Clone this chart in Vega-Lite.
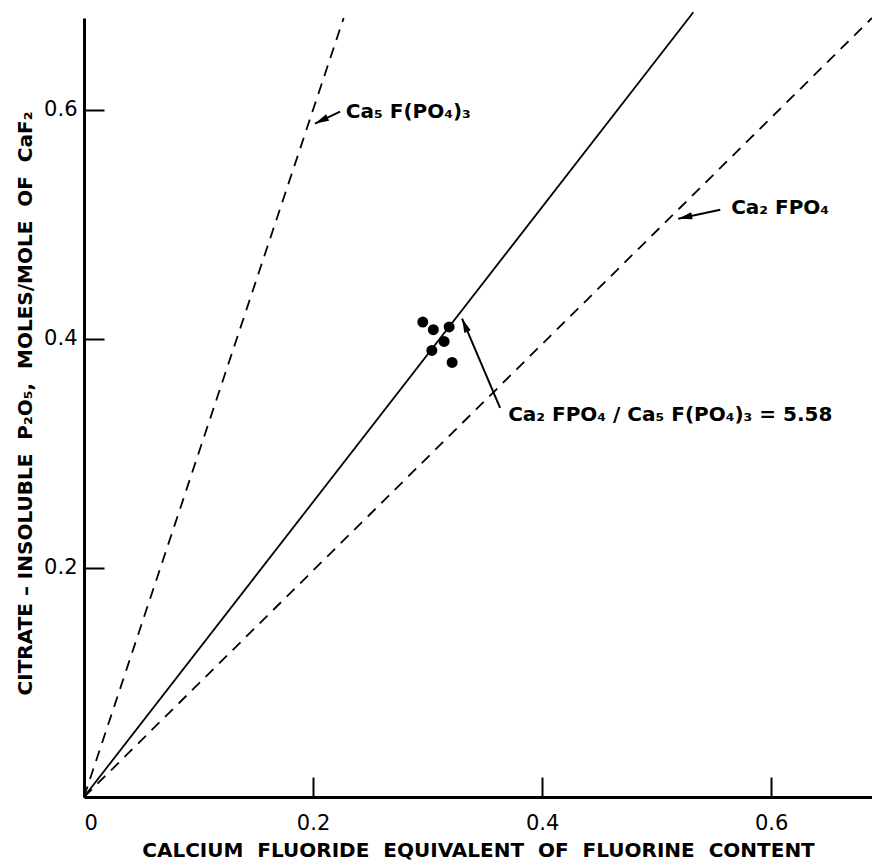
{
  "$schema": "https://vega.github.io/schema/vega-lite/v6.json",
  "width": 788,
  "height": 779,
  "autosize": {"type": "none"},
  "padding": {"left": 84, "top": 18, "right": 0, "bottom": 67},
  "background": "white",
  "config": {
    "view": {"stroke": null},
    "font": "DejaVu Sans",
    "axis": {
      "grid": false,
      "domainColor": "black",
      "domainWidth": 3,
      "tickColor": "black",
      "tickWidth": 2,
      "tickSize": -20,
      "labelColor": "black",
      "labelFont": "DejaVu Sans",
      "labelFontSize": 21,
      "labelFontWeight": "normal",
      "titleColor": "black",
      "titleFont": "DejaVu Sans",
      "titleFontSize": 20,
      "titleFontWeight": "bold"
    }
  },
  "datasets": {
    "lines": [
      {"series": "Ca5F(PO4)3", "x": 0, "y": 0},
      {"series": "Ca5F(PO4)3", "x": 0.2267, "y": 0.68},
      {"series": "mixture", "x": 0, "y": 0},
      {"series": "mixture", "x": 0.532, "y": 0.685},
      {"series": "Ca2FPO4", "x": 0, "y": 0},
      {"series": "Ca2FPO4", "x": 0.688, "y": 0.68}
    ],
    "points": [
      {"x": 0.2958, "y": 0.4146},
      {"x": 0.3050, "y": 0.4079},
      {"x": 0.3188, "y": 0.4103},
      {"x": 0.3144, "y": 0.3977},
      {"x": 0.3037, "y": 0.3898},
      {"x": 0.3214, "y": 0.3793}
    ],
    "arrows": [
      {"label": "apatite", "x": 0.2236, "y": 0.5983, "x2": 0.2017, "y2": 0.5878},
      {"label": "fluorapatite2", "x": 0.5555, "y": 0.5127, "x2": 0.5188, "y2": 0.5048},
      {"label": "ratio", "x": 0.3633, "y": 0.3397, "x2": 0.3301, "y2": 0.4175}
    ],
    "labels": [
      {"x": 0.226, "y": 0.5983, "text": "Ca₅ F(PO₄)₃"},
      {"x": 0.5624, "y": 0.5144, "text": "Ca₂ FPO₄"},
      {"x": 0.3677, "y": 0.3336, "text": "Ca₂ FPO₄ / Ca₅ F(PO₄)₃ = 5.58"}
    ]
  },
  "layer": [
    {
      "data": {"name": "lines"},
      "transform": [{"filter": "datum.series !== 'mixture'"}],
      "mark": {"type": "line", "color": "black", "strokeWidth": 1.8, "strokeDash": [11, 8], "clip": false},
      "encoding": {
        "x": {
          "field": "x", "type": "quantitative",
          "scale": {"domain": [0, 0.688], "nice": false, "zero": true},
          "axis": {
            "values": [0, 0.2, 0.4, 0.6],
            "format": ".1~f",
            "labelPadding": 35,
            "title": "CALCIUM\u00a0 FLUORIDE\u00a0 EQUIVALENT\u00a0 OF\u00a0 FLUORINE\u00a0 CONTENT",
            "titlePadding": 7
          }
        },
        "y": {
          "field": "y", "type": "quantitative",
          "scale": {"domain": [0, 0.68], "nice": false, "zero": true},
          "axis": {
            "values": [0.2, 0.4, 0.6],
            "format": ".1~f",
            "labelPadding": 27,
            "title": "CITRATE – INSOLUBLE\u00a0 P₂O₅,\u00a0 MOLES/MOLE\u00a0 OF\u00a0 CaF₂",
            "titlePadding": 8,
            "titleY": 385
          }
        },
        "detail": {"field": "series"}
      }
    },
    {
      "data": {"name": "lines"},
      "transform": [{"filter": "datum.series === 'mixture'"}],
      "mark": {"type": "line", "color": "black", "strokeWidth": 1.8, "clip": false},
      "encoding": {
        "x": {"field": "x", "type": "quantitative"},
        "y": {"field": "y", "type": "quantitative"}
      }
    },
    {
      "data": {"name": "points"},
      "mark": {"type": "point", "filled": true, "color": "black", "opacity": 1, "size": 120, "shape": "circle"},
      "encoding": {
        "x": {"field": "x", "type": "quantitative"},
        "y": {"field": "y", "type": "quantitative"}
      }
    },
    {
      "data": {"name": "arrows"},
      "mark": {"type": "rule", "color": "black", "strokeWidth": 2},
      "encoding": {
        "x": {"field": "x", "type": "quantitative"},
        "y": {"field": "y", "type": "quantitative"},
        "x2": {"field": "x2"},
        "y2": {"field": "y2"}
      }
    },
    {
      "data": {"name": "arrows"},
      "transform": [{"filter": "datum.label === 'apatite'"}],
      "mark": {"type": "point", "filled": true, "color": "black", "opacity": 1, "size": 196, "shape": "M0,0L0.5,2L-0.5,2Z", "angle": 244},
      "encoding": {
        "x": {"field": "x2", "type": "quantitative"},
        "y": {"field": "y2", "type": "quantitative"}
      }
    },
    {
      "data": {"name": "arrows"},
      "transform": [{"filter": "datum.label === 'fluorapatite2'"}],
      "mark": {"type": "point", "filled": true, "color": "black", "opacity": 1, "size": 196, "shape": "M0,0L0.5,2L-0.5,2Z", "angle": 258},
      "encoding": {
        "x": {"field": "x2", "type": "quantitative"},
        "y": {"field": "y2", "type": "quantitative"}
      }
    },
    {
      "data": {"name": "arrows"},
      "transform": [{"filter": "datum.label === 'ratio'"}],
      "mark": {"type": "point", "filled": true, "color": "black", "opacity": 1, "size": 196, "shape": "M0,0L0.5,2L-0.5,2Z", "angle": 337},
      "encoding": {
        "x": {"field": "x2", "type": "quantitative"},
        "y": {"field": "y2", "type": "quantitative"}
      }
    },
    {
      "data": {"name": "labels"},
      "mark": {"type": "text", "align": "left", "baseline": "middle", "fontSize": 20, "fontWeight": "bold", "color": "black", "font": "DejaVu Sans", "dx": 3},
      "encoding": {
        "x": {"field": "x", "type": "quantitative"},
        "y": {"field": "y", "type": "quantitative"},
        "text": {"field": "text"}
      }
    }
  ]
}
